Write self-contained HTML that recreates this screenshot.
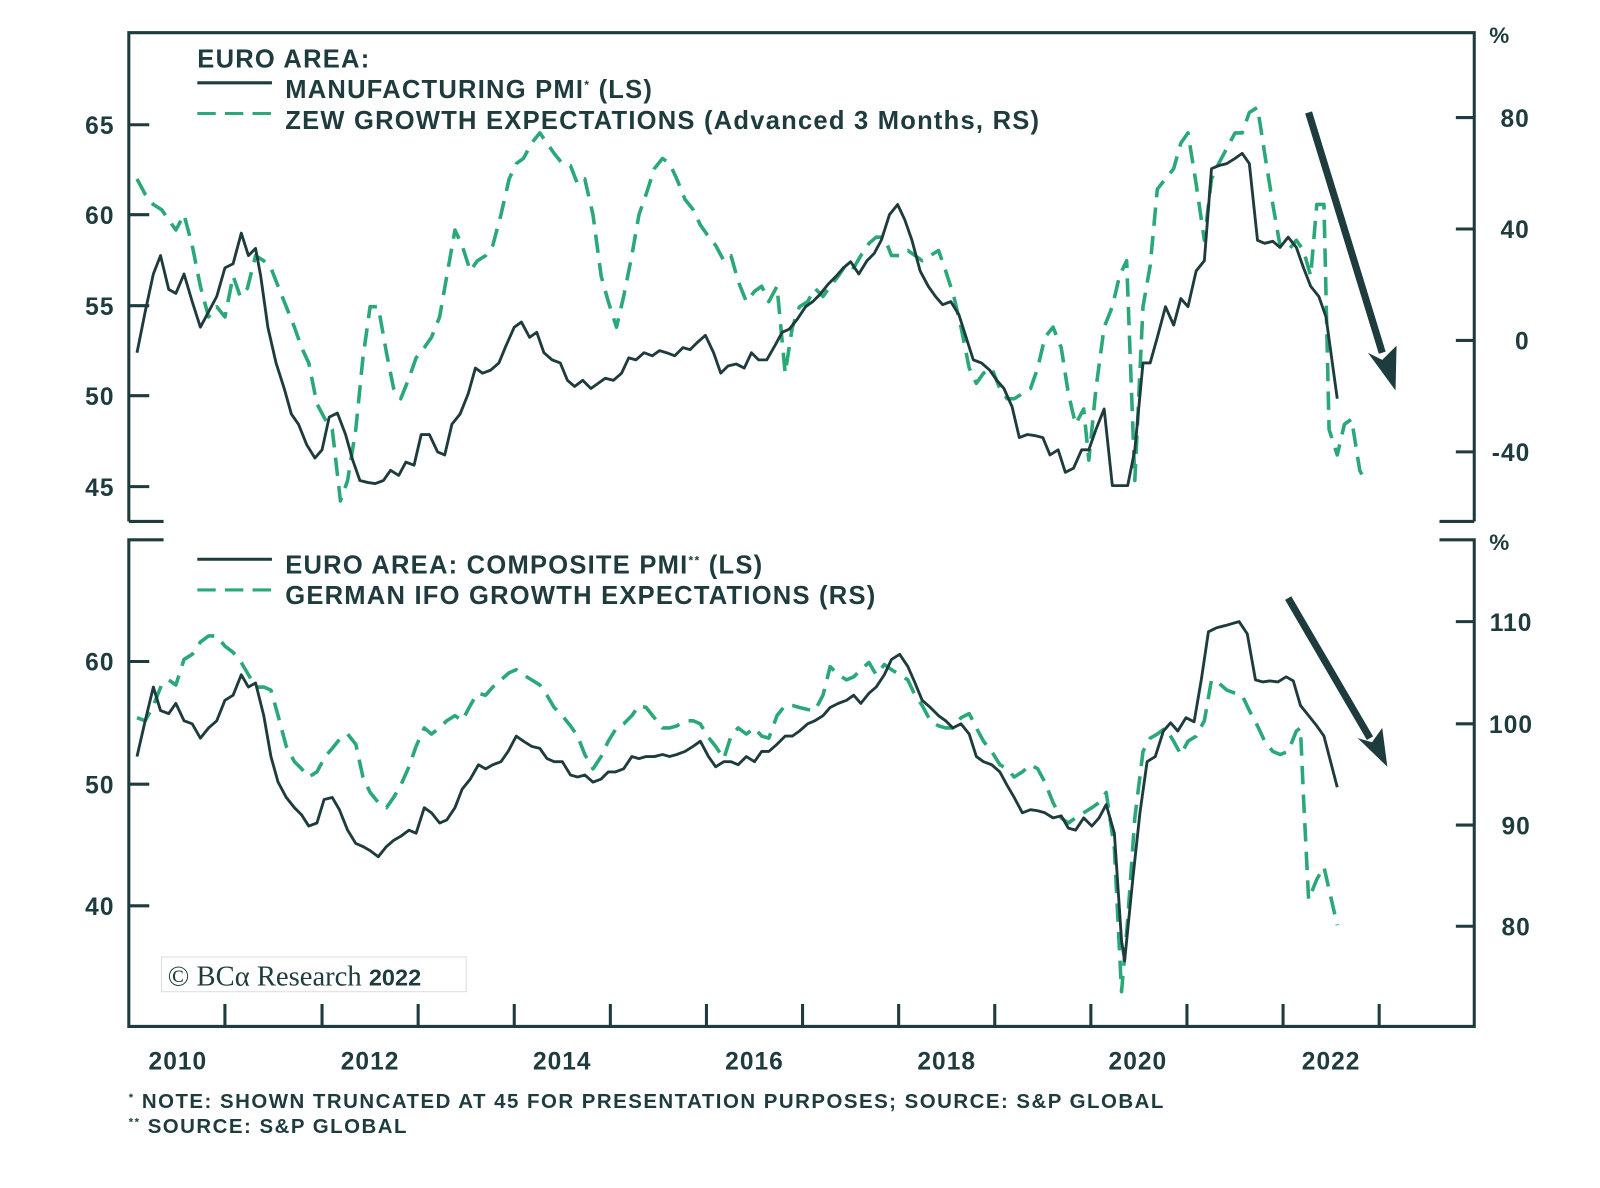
<!DOCTYPE html>
<html><head><meta charset="utf-8"><style>
html,body{margin:0;padding:0;background:#fff;}
svg{display:block;}
text{font-family:"Liberation Sans",sans-serif;fill:#1e3b3d;font-weight:bold;}
</style></head><body>
<svg width="1600" height="1188" viewBox="0 0 1565 1162" preserveAspectRatio="none" xmlns="http://www.w3.org/2000/svg">
<g stroke="#1e3b3d" stroke-width="3" fill="none">
<path d="M126 510 V32 H1442 V510"/>
<path d="M126 510 H160 M1408 510 H1442"/>
<path d="M160 528 H126 V1004 H1442 V528 H1408"/>
<path d="M126 122 H146 M126 210 H146 M126 299 H146 M126 387 H146 M126 476 H146"/>
<path d="M1424 115 H1442 M1424 224 H1442 M1424 333 H1442 M1424 442 H1442"/>
<path d="M126 647 H146 M126 767 H146 M126 886 H146"/>
<path d="M1424 608 H1442 M1424 708 H1442 M1424 807 H1442 M1424 906 H1442"/>
<path d="M220 982 V1004 M315 982 V1004 M409 982 V1004 M503 982 V1004 M597 982 V1004 M691 982 V1004 M785 982 V1004 M879 982 V1004 M973 982 V1004 M1067 982 V1004 M1161 982 V1004 M1255 982 V1004 M1349 982 V1004"/>
</g>
<g font-size="24" text-anchor="end" letter-spacing="1">
<text x="112" y="131">65</text><text x="112" y="219">60</text><text x="112" y="308">55</text><text x="112" y="396">50</text><text x="112" y="485">45</text>
<text x="112" y="656">60</text><text x="112" y="776">50</text><text x="112" y="895">40</text>
</g>
<g font-size="24" text-anchor="middle" letter-spacing="1">
<text x="1482" y="124">80</text><text x="1482" y="233">40</text><text x="1489" y="342">0</text><text x="1478" y="451">-40</text>
<text x="1478" y="617">110</text><text x="1478" y="717">100</text><text x="1483" y="816">90</text><text x="1483" y="915">80</text>
<text x="1467" y="42" font-size="22">%</text><text x="1467" y="538" font-size="22">%</text>
<text x="174" y="1046">2010</text><text x="362" y="1046">2012</text><text x="550" y="1046">2014</text><text x="738" y="1046">2016</text><text x="926" y="1046">2018</text><text x="1113" y="1046">2020</text><text x="1302" y="1046">2022</text>
</g>
<g font-size="25" letter-spacing="1.2">
<text x="193" y="66">EURO AREA:</text>
<text x="279" y="96">MANUFACTURING PMI<tspan font-size="12" dy="-9">*</tspan><tspan dy="9"> (LS)</tspan></text>
<text x="279" y="126">ZEW GROWTH EXPECTATIONS (Advanced 3 Months, RS)</text>
<text x="279" y="561">EURO AREA: COMPOSITE PMI<tspan font-size="12" dy="-9">**</tspan><tspan dy="9"> (LS)</tspan></text>
<text x="279" y="591">GERMAN IFO GROWTH EXPECTATIONS (RS)</text>
</g>
<g font-size="20" letter-spacing="1.45">
<text x="126" y="1084"><tspan font-size="11" dy="-7">*</tspan><tspan dy="7"> NOTE: SHOWN TRUNCATED AT 45 FOR PRESENTATION PURPOSES; SOURCE: S&amp;P GLOBAL</tspan></text>
<text x="126" y="1108"><tspan font-size="11" dy="-7">**</tspan><tspan dy="7"> SOURCE: S&amp;P GLOBAL</tspan></text>
</g>
<rect x="158" y="936" width="298" height="34" fill="#fff" stroke="#ddd" stroke-width="1"/>
<text x="164" y="964" font-size="28" style="font-family:'Liberation Serif',serif;font-weight:normal">© BCα Research <tspan style="font-family:'Liberation Sans',sans-serif;font-weight:bold" font-size="23">2022</tspan></text>
<g stroke-width="3" fill="none">
<path d="M193 81 H266 M193 547 H266" stroke="#1e3b3d"/>
<path d="M193 111 H266 M193 577 H266" stroke="#2aa877" stroke-dasharray="18 9"/>
</g>
<g fill="none" stroke-linejoin="round">
<polyline stroke="#2aa877" stroke-width="3.5" stroke-dasharray="18 10" points="134,175 142,190 150,200 158,205 165,215 172,225 180,210 188,240 196,280 204,310 212,300 220,310 228,270 235,290 242,282 250,250 258,255 265,262 272,280 280,300 288,320 295,340 302,355 310,395 318,410 325,420 333,490 340,470 348,420 355,350 362,300 370,300 378,345 385,380 392,390 400,370 407,350 415,340 422,330 430,310 437,270 445,225 452,240 460,265 467,255 475,250 482,240 490,210 498,175 505,160 512,155 520,140 528,130 535,140 542,150 550,160 558,162 565,180 572,175 580,210 588,270 595,295 603,320 610,290 618,250 625,210 632,190 640,165 648,155 655,160 662,175 670,195 678,205 685,220 692,230 700,240 708,255 715,250 722,275 730,295 738,285 745,280 752,295 760,280 768,365 775,320 782,300 790,295 797,282 805,290 812,280 820,270 828,258 835,262 842,250 850,238 857,232 865,232 872,250 880,250 888,245 895,250 902,255 910,250 918,245 925,265 933,290 940,320 948,360 955,375 962,365 970,360 978,380 985,390 992,390 1000,385 1008,380 1015,360 1022,330 1030,320 1038,340 1045,385 1052,415 1060,400 1065,450 1072,380 1080,320 1088,300 1095,270 1102,255 1110,470 1118,300 1125,260 1132,185 1140,175 1148,165 1155,140 1162,130 1170,180 1178,235 1185,175 1192,160 1200,145 1208,130 1215,130 1222,110 1230,105 1237,150 1245,200 1252,240 1260,245 1268,235 1275,245 1282,270 1288,200 1295,200 1300,420 1308,445 1315,415 1322,410 1330,460 1335,470"/>
<polyline stroke="#1e3b3d" stroke-width="2.8" points="134,345 142,305 150,268 157,250 165,283 172,287 180,268 188,295 196,320 204,305 212,290 220,262 228,258 236,228 243,250 250,243 255,270 262,320 270,355 278,380 285,405 292,415 300,435 308,448 315,440 322,408 330,404 338,425 345,450 352,470 360,472 367,473 375,470 382,460 390,465 397,452 405,455 412,425 420,425 428,442 435,445 442,415 450,405 458,385 465,360 472,365 480,362 488,355 495,338 503,320 510,315 518,330 525,325 532,345 540,352 548,355 555,372 562,378 570,372 578,380 585,375 592,370 600,372 608,365 615,350 622,352 630,345 638,348 645,343 652,345 660,348 668,340 675,342 682,335 690,328 698,345 705,365 712,358 720,356 728,360 735,345 742,352 750,352 758,338 765,325 772,322 780,312 788,300 795,295 802,288 810,278 818,270 825,262 832,256 840,268 848,255 855,248 862,235 870,210 878,200 885,215 892,235 900,265 908,280 915,290 922,298 930,295 938,308 945,330 952,352 960,355 968,362 975,372 982,380 990,398 997,428 1005,425 1012,426 1020,428 1027,445 1035,440 1042,462 1050,458 1058,440 1065,440 1072,420 1080,400 1088,475 1095,475 1103,475 1110,440 1118,355 1125,355 1132,330 1140,300 1148,318 1155,292 1162,300 1170,265 1178,255 1185,165 1192,162 1200,160 1208,155 1215,150 1222,160 1230,235 1237,238 1245,236 1252,242 1260,232 1268,242 1275,262 1282,280 1290,290 1297,310 1308,390"/>
<polyline stroke="#2aa877" stroke-width="3.5" stroke-dasharray="18 10" points="134,702 142,705 150,690 158,670 165,665 172,670 180,645 188,640 196,628 204,622 212,622 220,632 228,638 236,648 243,660 250,672 258,672 265,675 272,700 280,730 288,745 295,752 302,760 310,755 318,740 325,732 333,722 340,718 348,728 355,760 362,775 370,785 378,790 385,780 392,768 400,750 407,730 415,712 422,718 430,712 437,705 445,700 452,705 460,690 467,678 475,680 482,672 490,665 498,658 505,655 512,660 520,665 528,670 535,680 542,692 550,700 558,710 565,720 572,738 580,752 588,740 595,725 603,712 610,708 618,700 625,690 632,692 640,702 648,712 655,712 662,710 670,705 678,705 685,708 692,720 700,730 708,742 715,720 722,712 730,718 738,712 745,720 752,722 760,700 768,690 775,690 782,692 790,694 797,695 805,680 812,652 820,660 828,665 835,662 842,655 850,648 857,660 865,650 872,655 880,660 888,665 895,680 902,690 910,705 918,710 925,712 933,712 940,702 948,698 955,712 962,725 970,735 978,748 985,752 992,760 1000,755 1008,748 1015,752 1022,765 1030,785 1038,800 1045,805 1052,800 1060,795 1068,790 1075,785 1082,775 1090,830 1097,970 1103,900 1110,800 1118,735 1125,722 1132,718 1140,712 1148,725 1155,738 1162,725 1170,720 1178,705 1185,665 1192,668 1200,675 1208,678 1215,680 1222,695 1230,710 1237,725 1245,735 1252,738 1260,735 1268,715 1272,712 1275,780 1280,880 1288,860 1295,848 1300,870 1308,905"/>
<polyline stroke="#1e3b3d" stroke-width="2.8" points="134,740 142,705 150,672 157,695 165,698 172,688 180,705 188,708 196,722 204,712 212,705 220,685 228,680 236,660 243,672 250,668 258,700 265,740 272,765 280,780 288,790 295,797 302,808 310,805 317,782 325,780 332,792 340,812 348,825 355,828 362,832 370,838 378,828 385,822 392,818 400,812 407,815 415,790 422,795 430,805 437,802 445,790 452,772 460,762 468,748 475,752 482,748 490,745 497,735 505,720 512,725 520,730 528,732 535,742 542,745 550,745 558,758 565,760 572,758 580,765 588,762 595,755 602,755 610,752 618,740 625,742 632,740 640,740 648,738 655,740 662,738 670,735 678,730 685,725 693,740 700,750 708,745 715,745 722,748 730,740 738,745 745,735 752,735 760,728 768,720 775,720 782,715 790,708 797,705 805,700 812,692 820,688 828,685 835,680 842,688 850,678 857,672 865,660 872,645 880,640 888,652 895,668 902,685 910,692 918,700 925,705 932,712 940,708 948,718 955,740 962,745 970,748 978,755 985,768 992,780 1000,795 1008,792 1015,793 1022,795 1030,800 1038,798 1045,810 1052,812 1060,800 1068,808 1075,800 1082,787 1090,815 1097,920 1100,940 1108,860 1115,795 1122,745 1130,740 1138,715 1145,707 1152,715 1160,702 1168,706 1175,665 1182,618 1190,614 1198,612 1205,610 1212,608 1220,620 1228,665 1235,667 1242,666 1250,667 1258,662 1265,666 1272,690 1280,700 1288,710 1295,720 1308,770"/>
</g>
<g stroke="#1e3b3d" stroke-width="7" fill="#1e3b3d">
<line x1="1280" y1="110" x2="1352" y2="345"/>
<polygon stroke="none" points="1365,382 1338,345 1352,352 1366,338"/>
<line x1="1260" y1="585" x2="1340" y2="722"/>
<polygon stroke="none" points="1357,750 1328,722 1342,726 1352,712"/>
</g>
</svg>
</body></html>
